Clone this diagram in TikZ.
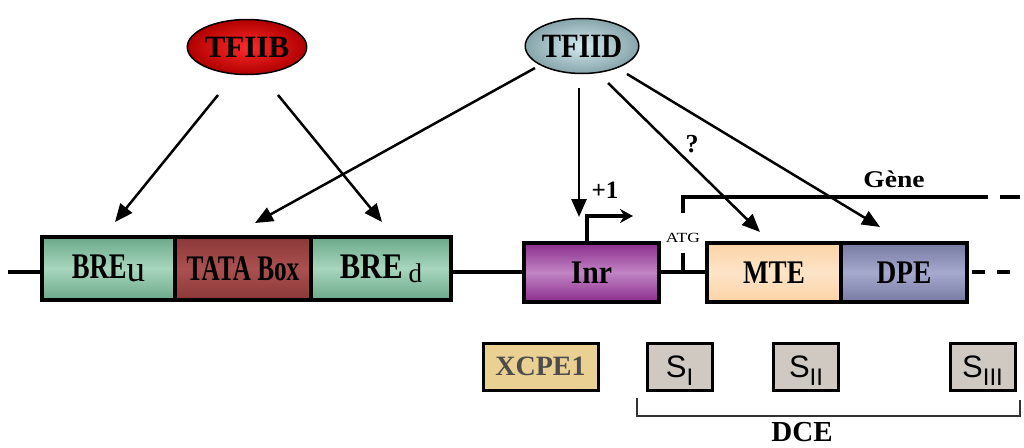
\documentclass[tikz,border=0pt]{standalone}
\usepackage{fontspec}
\setmainfont{Liberation Serif}
\newfontfamily\arialfont{Liberation Sans}
\usetikzlibrary{arrows.meta,calc,shapes.geometric}

\newcommand\fsz[1]{\fontsize{#1}{#1}\selectfont}

\definecolor{breEdge}{HTML}{6AA888}
\definecolor{breMid}{HTML}{A8D6BE}
\definecolor{tataEdge}{HTML}{8B3838}
\definecolor{tataMid}{HTML}{AA5050}
\definecolor{inrEdge}{HTML}{8A2D8C}
\definecolor{inrMid}{HTML}{C184C4}
\definecolor{mteEdge}{HTML}{FCD3A6}
\definecolor{mteMid}{HTML}{FDE4C8}
\definecolor{dpeEdge}{HTML}{767AA2}
\definecolor{dpeMid}{HTML}{A6AACE}
\definecolor{xcpeFill}{HTML}{EAD193}
\definecolor{sFill}{HTML}{CFC9C2}
\definecolor{tfiibIn}{HTML}{FF2A2A}
\definecolor{tfiibOut}{HTML}{B00000}
\definecolor{tfiidIn}{HTML}{D4ECF0}
\definecolor{tfiidOut}{HTML}{86A4AA}

\begin{document}
\begin{tikzpicture}[x=1pt,y=-1pt,
  arr/.style={line width=2.5pt,-{Triangle[length=18pt,width=15pt]}},
  dna/.style={line width=4pt},
  elem/.style={draw,line width=3.5pt,rectangle,inner sep=0pt,outer sep=0pt,
               font=\fsz{36}\bfseries},
  factor/.style={ellipse,draw,line width=1.5pt,inner sep=0pt,outer sep=0pt,
                 font=\fsz{31}\bfseries},
  motif/.style={draw,line width=3pt,rectangle,inner sep=0pt,outer sep=0pt,
                minimum height=47pt},
  sub/.style={motif,fill=sFill,minimum width=65pt,text depth=0pt,
              font=\arialfont\fsz{31}},
  lbl/.style={inner sep=0pt,outer sep=0pt,anchor=base}]

\useasboundingbox (0,0) rectangle (1024,447);

% transcription factors
\node[factor,minimum width=102pt,minimum height=55pt,
      inner color=tfiibIn,outer color=tfiibOut] (tfiib) at (247,47) {TFIIB};
\node[factor,minimum width=92pt,minimum height=55pt,
      inner color=tfiidIn,outer color=tfiidOut] (tfiid) at (582,46)
      {\fsz{34}\scalebox{.85}[1]{TFIID}};

% DNA backbone
\coordinate (lend) at (8,272);
\coordinate (rend) at (1020,272);
\coordinate (atg) at (683,272);
\coordinate (tss) at (587,216);

% upstream promoter block
\node[elem,top color=breEdge,bottom color=breEdge,middle color=breMid,
      minimum width=133pt,minimum height=63pt] (breu) at (108.5,268.5)
      {\scalebox{.74}[1]{BRE}{\mdseries\fsz{37}\raisebox{-3pt}{u}}};
\node[elem,top color=tataEdge,bottom color=tataEdge,middle color=tataMid,
      minimum width=136pt,minimum height=63pt] (tata) at (243,268.5)
      {\scalebox{.7}[1]{TATA Box}};
\node[elem,top color=breEdge,bottom color=breEdge,middle color=breMid,
      minimum width=140pt,minimum height=63pt] (bred) at (381,268.5)
      {\scalebox{.85}[1]{BRE}\,{\mdseries\fsz{27}\raisebox{-4pt}{d}}};

% core elements
\node[elem,top color=inrEdge,bottom color=inrEdge,middle color=inrMid,
      minimum width=135pt,minimum height=59pt] (inr) at (591.5,272.5)
      {\raisebox{-4pt}{\fsz{33}\scalebox{.9}[1]{Inr}}};
\node[elem,top color=mteEdge,bottom color=mteEdge,middle color=mteMid,
      minimum width=134pt,minimum height=59pt] (mte) at (774,272.5)
      {\raisebox{-4pt}{\fsz{33}\scalebox{.82}[1]{MTE}}};
\node[elem,top color=dpeEdge,bottom color=dpeEdge,middle color=dpeMid,
      minimum width=126pt,minimum height=59pt] (dpe) at (904,272.5)
      {\raisebox{-4pt}{\fsz{33}\scalebox{.83}[1]{DPE}}};

% DNA line segments between the elements
\draw[dna] (lend) -- (lend -| breu.west);
\draw[dna] (lend -| bred.east) -- (lend -| inr.west);
\draw[dna] (lend -| inr.east) -- (lend -| mte.west);
\draw[dna,dash pattern=on 13pt off 12pt,shorten <=5pt] (lend -| dpe.east) -- (rend);

% start codon tick and gene extent
\draw[dna] (atg) -- ++(0,-19);
\node[lbl,font=\fsz{14}] (atglbl) at (683,242) {\scalebox{1.25}[1]{ATG}};
\coordinate (g0) at (683,213);
\coordinate (g1) at (988,197);
\draw[dna] (g0) |- (g1);
\draw[dna] (1000,197) -- (1020,197);
\node[lbl,font=\fsz{24}\bfseries] (gene) at (894,187) {\scalebox{1.15}[1]{Gène}};

% transcription start site
\draw[line width=3.5pt,-{Stealth[length=13pt,width=14pt]}]
      (tss |- inr.north) -- (tss) -- ++(46,0);
\node[lbl,font=\fsz{25}\bfseries] (plus1) at (605,198) {+1};

% binding arrows
\coordinate (tipBu) at (115,222);
\coordinate (tipBd) at (382,222);
\coordinate (tipTata) at (255,223);
\coordinate (tipInr) at (579,217);
\coordinate (tipMte) at (760,232);
\coordinate (tipDpe) at (880,227);
\draw[arr] ($(tfiib.center)+(-29,48)$) -- (tipBu);
\draw[arr] ($(tfiib.center)+(31,48)$) -- (tipBd);
\draw[arr] ($(tfiid.center)+(-47,22)$) -- (tipTata);
\draw[arr] ($(tfiid.center)+(-3,42)$) -- (tipInr);
\draw[arr] ($(tfiid.center)+(26,37)$) -- (tipMte);
\draw[arr] ($(tfiid.center)+(45,28)$) -- (tipDpe);
\node[lbl,font=\fsz{26}\bfseries] (q) at (692,152) {?};

% downstream motifs
\node[motif,fill=xcpeFill,minimum width=115pt,text=black!70,
      font=\fsz{28}\bfseries] (xcpe) at (540.5,366.5) {XCPE1};
\node[sub] (s1) at (679.5,366.5) {S\raisebox{-8pt}{\fsz{24}I}};
\node[sub] (s2) at (806,366.5) {S\raisebox{-8pt}{\fsz{24}II}};
\node[sub] (s3) at (982.5,366.5) {S\raisebox{-8pt}{\fsz{24}III}};

% DCE bracket
\coordinate (bl) at (637,398);
\coordinate (br) at (1020,400);
\draw[line width=2pt,black!80] (bl) -- ++(0,18) -| (br);
\node[lbl,font=\fsz{29}\bfseries] (dce) at (802,441) {DCE};

\end{tikzpicture}
\end{document}
